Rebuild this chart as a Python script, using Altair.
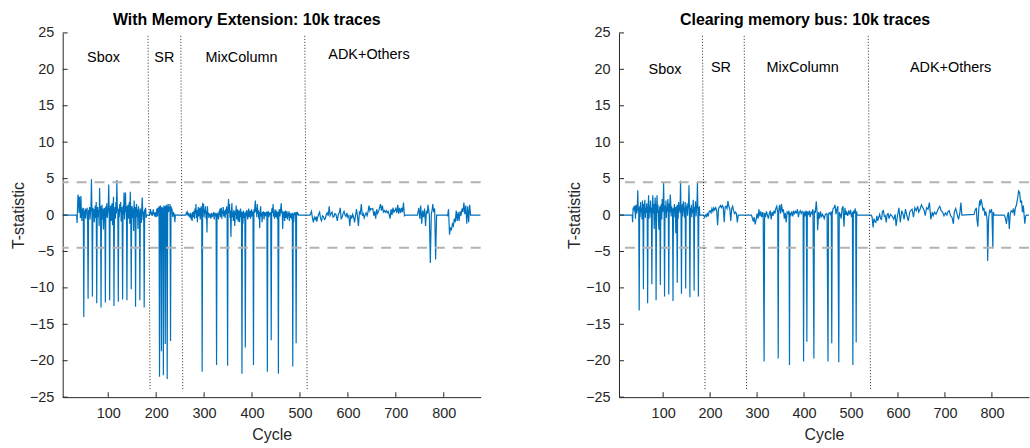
import altair as alt
import pandas as pd

# ---------------- data ----------------
# Panel 1: With Memory Extension
mem_sbox_start = 34
mem_sbox = [
    0.0, -1.1, 1.2, 2.8, 2.2, 0.3, 2.5, 1.0, -0.4, 2.6,
    0.5, -0.8, 0.9, 0.2, 1.0, -14.0, 0.6, -0.3, 0.9, -0.5,
    0.8, 0.2, 1.0, -0.9, -11.5, 0.7, 0.1, 1.1, -0.6, 0.4,
    1.2, 4.9, 0.3, -11.2, 1.0, -0.2, 0.8, -1.0, 0.6, 1.3,
    -0.4, 1.8, -12.1, 0.9, 1.1, -0.3, 0.7, -1.5, 3.7, 0.5,
    1.2, -12.7, 0.4, 1.4, -0.6, 0.9, -2.0, 0.2, 1.0, 0.6,
    -12.0, 1.2, -0.2, 1.6, -0.4, 0.3, 1.0, 4.2, 0.8, -11.7,
    0.5, 1.3, -0.8, 0.4, 1.6, -1.4, 0.9, 2.5, -12.5, 0.3,
    1.1, -0.5, 1.8, 0.2, 4.8, 0.6, 1.0, -11.9, 0.8, -0.3,
    1.5, 0.4, 1.8, -0.9, 1.1, 0.2, -11.6, 1.3, 0.0, 3.1,
    -0.6, 0.9, 3.1, 0.4, 1.2, -11.7, 0.6, 1.4, -0.5, 0.8,
    1.8, -1.2, 3.2, 0.7, -10.2, 1.0, 1.2, -0.4, 0.9, -2.2,
    2.0, 0.5, 1.1, -12.6, 0.3, 1.5, -0.3, 0.8, -1.9, 1.2,
    0.6, 0.0, -11.7, 0.9, 0.2, -1.1, 1.0, 2.4, 0.4, -0.7,
    0.5, -12.7, 0.8, 0.2, 1.0, -0.4, 0.0,
]
mem_sr_start = 186
mem_sr = [
    0.0, 0.3, 0.8, 0.4, 0.0, 0.2, -0.1, 0.3, 0.8, 0.2,
    0.0, -0.1, 0.4, 0.1, -0.3, 0.6, 0.9, -0.2, 1.0, 0.6,
    1.2, -22.2, 0.8, 1.3, 0.5, -18.7, 1.1, 0.4, 1.0, -22.0,
    1.3, 0.6, 1.2, -17.7, 0.9, 1.4, 0.7, -22.5, 1.2, 1.5,
    0.4, 1.1, 0.8, 1.5, -17.3, 1.2, 0.6, 0.9, 0.0, -0.3,
    0.4, 0.0, 0.2, -1.0, 0.0,
]
mem_mix_start = 262
mem_mix = [
    0.0, 0.3, 0.2, 0.4, 0.1, 0.3, -0.2, 0.0, 0.2, -0.4,
    0.3, -0.6, 0.1, -0.8, 0.4, 0.0, -0.3, 0.6, -0.5, 0.9,
    0.2, 1.5, -0.4, 0.7, -1.0, 0.3, 1.1, -0.2, 0.5, 1.0,
    -0.6, 0.4, 1.2, 0.3, -21.5, 1.7, 0.4, 1.5, -0.3, 0.8,
    0.2, 1.2, -0.5, 0.6, -2.4, 1.2, 0.0, 0.3, -0.4, 0.2,
    -0.2, 0.1, -0.5, 0.3, 0.0, -0.3, 0.2, -0.1, 0.4, -0.6,
    0.1, 0.3, -0.2, 0.2, -20.6, 0.3, -0.4, 0.2, -0.6, 0.5,
    0.0, 0.9, -0.3, 0.4, 1.0, -0.5, 0.6, 0.2, 1.1, -0.2,
    0.6, 0.3, -0.4, 0.8, 0.1, 1.2, 0.4, -20.7, 0.8, 2.2,
    0.3, 1.5, -0.4, 0.6, -3.0, 0.5, 1.6, -0.3, 0.4, -0.8,
    0.7, 0.1, -1.5, 0.5, 0.0, 1.3, -0.6, 0.3, 0.8, -0.9,
    0.2, 0.6, -1.0, 0.4, 0.9, -0.3, 0.5, -21.8, 0.4, -1.2,
    0.6, 0.2, -0.4, 0.3, -18.2, 0.5, -0.2, 0.7, 0.0, -0.6,
    0.4, 0.9, -0.3, 0.2, 0.6, -0.5, 0.3, 0.8, -0.2, 0.5,
    0.1, -20.6, 0.8, 0.3, 1.2, 2.0, 0.4, 1.0, -0.3, 1.5,
    0.2, 0.7, -0.5, 0.4, -1.8, 0.6, 1.2, -0.2, 0.3, -1.0,
    0.4, 0.0, 0.5, -0.6, 0.2, 0.4, -0.2, 0.3, 0.0, 0.5,
    -21.5, 0.2, 0.5, -0.3, 0.3, 0.0, 0.4, 0.2, -17.2, 0.6,
    1.0, 0.3, 1.5, -0.2, 0.4, -0.5, 0.8, 0.1, -0.3, 0.6,
    0.2, -0.6, 0.4, -21.8, 0.5, 0.8, -0.2, 0.3, 1.0, 1.6,
    0.2, 0.6, -1.9, 0.4, -0.3, 0.5, -0.8, 0.2, 0.6, -0.4,
    0.1, 0.5, -0.6, 0.2, -0.2, 0.5, -0.8, 0.3, 0.0, -0.4,
    0.2, -0.6, 0.3, -20.8, 0.2, -1.0, 0.3, 0.0, 0.4, 0.2,
    -17.6, 0.4, 0.0, 0.3, 0.2, 0.0,
]
mem_adk = [
    (521, 0.0), (524, 0.5), (526, -0.4), (528, -1.0), (530, -0.3), (532, -0.6),
    (534, -0.2), (535, -0.9), (537, -0.3), (539, 0.1), (541, 0.4), (543, -0.5),
    (545, -0.8), (547, -0.1), (549, -0.2), (551, -0.6), (553, -0.5), (555, 0.1),
    (557, 0.3), (559, -0.1), (561, 1.2), (563, -0.1), (565, 0.2), (567, 0.4),
    (569, -0.3), (571, -0.2), (573, 0.2), (575, 0.1), (578, -0.8), (580, 0.1),
    (582, 0.3), (584, 1.0), (586, -0.5), (588, -0.3), (590, 0.2), (592, 0.5),
    (594, 0.0), (596, -0.2), (598, 0.3), (600, -0.3), (602, -0.1), (604, -1.5),
    (606, 0.0), (608, -0.5), (610, 0.1), (612, -0.3), (614, -1.0), (616, 0.0),
    (618, 0.8), (620, -0.2), (622, -1.5), (624, 0.4), (626, 0.2), (628, 1.5),
    (630, -0.1), (632, 0.2), (634, -0.4), (636, 0.0), (638, 0.3), (640, -0.1),
    (642, 0.4), (644, 1.3), (646, 0.6), (648, 0.9), (650, 0.8), (652, 0.9),
    (654, -0.1), (656, 0.5), (658, -0.5), (660, 0.8), (662, 0.2), (664, 0.5),
    (666, 1.0), (668, 1.5), (670, 0.6), (672, 1.3), (674, 0.4), (676, 0.6),
    (678, 0.4), (680, 0.6), (682, 0.3), (684, 0.5), (686, 0.1), (688, -0.5),
    (690, 0.8), (692, 0.0), (694, 1.0), (696, 0.4), (698, 0.6), (700, 0.9),
    (702, 0.3), (704, 1.4), (706, 0.2), (708, 1.0), (710, 0.3), (712, 1.0),
    (714, 0.4), (716, 1.7), (718, -0.1), (720, 0.0),
]
mem_blk2 = [
    (745, 0.0), (746, 0.3), (748, 1.0), (750, -0.5), (752, 1.3), (754, -1.2),
    (756, 0.6), (758, -0.3), (760, 0.9), (762, -1.5), (764, 0.6), (766, 0.2),
    (767, 1.4), (769, 0.5), (770, -0.1), (772, -6.6), (774, 0.1), (776, 0.8),
    (777, 1.5), (779, 0.4), (781, 0.9), (783, -6.1), (785, 0.0),
]
mem_blk3 = [
    (806, 0.0), (808, -0.1), (810, 0.8), (812, -2.7), (814, -1.7), (816, -2.1),
    (818, -1.2), (820, -1.5), (822, -0.5), (824, -1.0), (826, 0.6), (828, -0.8),
    (830, 0.4), (832, -0.8), (834, 0.5), (836, -0.1), (838, 0.9), (840, 0.4),
    (842, 1.7), (844, 0.1), (846, 1.3), (848, -1.2), (850, 1.2), (852, -1.0),
    (854, 1.4), (856, 0.0), (877, 0.0),
]

# Panel 2: Clearing memory bus
clr_sbox_start = 34
clr_sbox = [
    0.0, -1.0, 1.0, 0.8, 1.2, 0.5, 1.3, -0.5, 0.9, 1.4,
    0.2, 1.1, 3.4, 0.6, 1.0, -13.1, 1.2, -0.3, 1.8, 0.4,
    1.0, -0.6, 2.0, 0.8, -10.2, 1.5, 0.2, 2.1, -0.4, 1.0,
    0.3, 1.6, 0.5, -12.1, 0.9, 2.7, -0.5, 1.2, 0.4, 2.0,
    -0.3, 1.0, -9.5, 1.3, 2.7, 0.2, 1.5, -1.9, 0.8, 2.4,
    0.6, -11.7, 1.0, 2.7, 0.3, 1.4, -0.8, -2.0, 0.5, 1.2,
    -9.6, 0.7, 1.5, -0.6, 2.2, 0.4, 1.0, 4.5, 0.6, -11.2,
    1.3, 0.2, 2.0, -0.4, 1.1, 0.5, 2.2, 0.8, -10.9, 1.6,
    0.3, 2.8, 2.0, -0.2, 1.2, 0.6, 0.9, -11.8, 1.0, 0.4,
    1.5, -0.3, 1.1, -2.5, 0.2, 1.3, -9.3, 1.4, -0.5, 1.8,
    0.6, 1.2, 0.3, 4.7, 0.9, -10.8, 0.7, 1.5, -0.2, 1.9,
    0.5, 1.0, -0.4, 1.8, -10.1, 1.2, 0.4, 1.6, -0.1, 0.9,
    1.3, 4.1, 0.6, -11.3, 1.0, 0.2, 1.4, -0.3, 0.8, 0.3,
    2.1, 0.7, -10.4, 1.1, 0.5, 1.9, -0.2, 0.8, 1.4, 4.5,
    0.6, -11.2, 0.9, 1.2, 0.0,
]
clr_sr = [
    (186, 0.0), (188, -0.3), (190, 0.0), (192, -0.2), (194, 0.3), (196, -0.2),
    (198, 0.5), (200, 0.6), (202, 0.3), (204, 0.9), (206, 0.5), (208, 1.0),
    (210, 0.7), (212, 1.0), (214, 0.6), (216, -1.4), (218, 0.9), (220, 1.1),
    (222, 1.3), (224, 1.0), (226, 1.3), (228, 1.1), (230, -1.0), (232, 1.1),
    (234, 1.2), (236, 0.9), (238, 1.9), (240, 1.2), (242, 0.8), (244, -0.8),
    (246, 0.9), (248, 1.2), (250, 0.6), (252, 0.2), (254, 0.4), (256, 0.2),
    (258, -1.0), (260, 0.0),
]
clr_mix = [
    (288, 0.0), (290, -0.4), (292, -0.9), (294, -0.3), (296, -1.3), (298, -0.6),
    (300, 0.2), (302, -0.5), (304, 0.8), (306, -0.2), (308, 0.5), (310, -0.3),
    (312, 0.4), (313, 0.1), (315, -20.1), (316, 0.3), (318, -0.3), (320, 0.5),
    (322, 0.0), (324, -0.5), (326, 0.2), (328, 0.6), (330, -0.6), (332, 0.4),
    (334, -0.1), (336, 0.6), (338, 0.2), (340, 0.9), (342, 1.2), (344, 0.3),
    (345, -19.7), (346, 0.5), (348, 1.4), (350, 0.2), (352, 1.5), (354, 0.4),
    (356, 0.8), (358, -0.5), (360, 0.3), (362, -1.0), (364, 0.4), (366, 0.2),
    (368, 0.6), (369, -20.6), (370, 0.3), (372, 0.0), (374, 0.5), (376, -0.2),
    (378, 0.6), (380, 0.2), (382, 0.5), (384, 0.3), (386, 0.8), (388, -0.3),
    (390, 0.4), (392, 0.6), (394, 0.2), (396, 0.5), (398, 0.3), (399, -20.1),
    (400, 0.5), (402, -0.2), (404, 0.6), (405, 0.2), (406, -17.4), (407, 0.5),
    (409, 0.0), (411, 0.6), (413, -0.3), (415, 0.4), (417, 0.2), (419, 0.8),
    (421, -19.7), (422, 0.6), (424, 0.3), (426, 1.9), (428, 0.2), (429, -2.1),
    (431, 0.4), (433, -0.5), (435, 0.5), (437, -0.3), (439, 0.1), (441, -0.1),
    (443, -0.5), (445, 0.0), (447, 0.2), (449, 0.1), (451, -20.1), (452, 0.2),
    (454, 0.3), (456, 0.1), (458, 0.5), (459, -17.6), (460, 0.2), (462, 0.9),
    (464, 1.0), (466, 1.4), (468, 0.1), (470, 0.8), (472, 1.2), (474, -20.2),
    (475, 0.4), (477, 0.1), (479, -0.5), (481, 0.9), (483, 1.2), (485, -1.6),
    (487, 1.0), (489, 0.0), (491, 0.4), (493, -0.1), (495, 0.5), (497, 0.2),
    (499, 0.7), (501, -0.3), (503, 0.4), (504, -20.6), (505, 0.6), (507, 0.2),
    (509, 0.9), (510, 0.4), (511, -17.5), (512, 0.5), (513, 0.0),
]
clr_adk = [
    (543, 0.0), (545, -0.3), (547, -1.7), (549, -0.5), (551, -0.9), (553, -1.0),
    (555, -0.1), (557, -0.8), (559, -0.3), (561, 0.1), (563, -0.5), (565, -0.6),
    (567, 0.5), (569, 0.6), (571, -0.2), (573, -0.1), (575, -1.0), (577, 0.1),
    (579, 0.2), (581, -0.5), (584, 0.1), (587, -0.1), (591, -0.6), (594, 0.1),
    (596, -1.5), (599, -0.1), (602, 1.0), (605, -1.0), (608, 0.6), (611, 0.1),
    (613, -0.6), (616, 0.8), (619, -0.1), (622, -0.8), (625, 0.4), (627, 0.6),
    (630, 0.8), (633, -0.3), (636, 1.0), (639, 0.6), (642, 1.2), (644, 0.4),
    (647, 0.8), (650, 1.4), (653, 1.0), (656, 0.6), (658, -0.1), (661, 1.0),
    (664, 0.8), (667, 1.7), (670, -0.6), (673, 0.4), (675, -0.1), (678, 0.4),
    (681, 0.1), (684, 0.6), (687, 1.0), (689, 1.2), (692, 0.6), (695, 0.4),
    (698, -0.1), (701, 0.3), (704, 0.0), (706, 0.4), (709, 0.6), (712, -0.1),
    (715, -0.3), (718, -1.2), (720, 0.4), (723, 0.9), (726, 0.1), (729, -0.6),
    (732, 0.4), (734, 1.7), (736, 0.0),
]
clr_blk2 = [
    (762, 0.1), (764, 0.6), (767, 1.0), (768, -0.5), (770, -1.6), (772, 0.8),
    (774, 2.0), (775, 1.3), (777, 2.2), (779, 1.5), (781, 0.6), (783, 1.0),
    (785, -0.1), (787, 0.5), (789, -0.2), (790, -1.0), (791, -6.3), (793, -0.5),
    (795, 0.6), (797, 0.4), (799, 0.8), (800, 0.4), (802, -4.6), (803, 0.4),
    (805, 0.0),
]
clr_blk3 = [
    (826, 0.0), (827, -0.1), (829, -0.5), (831, -1.2), (833, -0.1), (835, 0.4),
    (837, -1.9), (839, 0.1), (841, 0.6), (844, 0.4), (846, 0.9), (848, -0.1),
    (850, 1.0), (852, 1.3), (854, 2.0), (857, 3.3), (859, 3.1), (861, 1.7),
    (863, 2.0), (865, 0.4), (867, 1.3), (870, -1.2), (872, -0.1), (874, 0.0),
    (880, 0.0),
]

region_names = ["Sbox", "SR", "MixColumn", "ADK+Others"]
mem_label_x = [90, 217, 378, 644]
mem_label_y = [21.6, 21.5, 21.6, 22.0]
clr_label_x = [104, 223, 397, 712]
clr_label_y = [19.9, 20.2, 20.2, 20.2]

mem_div_top = [183.0, 251.4, 510.0]
mem_div_bot = [187.3, 255.5, 515.0]
clr_div_top = [183.6, 272.6, 536.7]
clr_div_bot = [189.2, 277.5, 541.6]
div_y_top = 24.6
div_y_bot = -24.0

thresholds = [4.5, -4.5]
x_ticks = [100, 200, 300, 400, 500, 600, 700, 800]
y_ticks = [-25, -20, -15, -10, -5, 0, 5, 10, 15, 20, 25]

# ---------------- chart ----------------
FONT = "Liberation Sans"
BLUE = "#0072BD"
AX = "#262626"
H = 366


def seq(start, vals):
    return [(start + i, v) for i, v in enumerate(vals)]


mem_points = ([(5, 0.0)] + seq(mem_sbox_start, mem_sbox) + seq(mem_sr_start, mem_sr)
              + seq(mem_mix_start, mem_mix) + mem_adk + mem_blk2 + mem_blk3)
clr_points = ([(6, 0.0)] + seq(clr_sbox_start, clr_sbox) + clr_sr + clr_mix
              + clr_adk + clr_blk2 + clr_blk3)

XAXIS = alt.Axis(values=x_ticks, title="Cycle", labelPadding=9, titlePadding=7)
YAXIS = alt.Axis(values=y_ticks, title="T-statistic", labelPadding=9, titlePadding=3)


def panel(points, lx, ly, dtop, dbot, title, xdom, width, title_dx):
    df = pd.DataFrame(points, columns=["cycle", "t"])
    xs = alt.Scale(domain=xdom, nice=False, zero=False)
    ys = alt.Scale(domain=[-25, 25], nice=False, zero=False)

    def X(f):
        return alt.X(f, scale=xs, axis=XAXIS)

    def Y(f):
        return alt.Y(f, scale=ys, axis=YAXIS)

    line = alt.Chart(df).mark_line(color=BLUE, strokeWidth=1.2, clip=True).encode(
        x=X("cycle:Q"), y=Y("t:Q"))
    thr = alt.Chart(pd.DataFrame({"t": thresholds})).mark_rule(
        color="#b3b3b3", strokeDash=[10, 8], strokeWidth=2
    ).encode(y=Y("t:Q"))
    div = alt.Chart(pd.DataFrame({
        "xt": dtop, "xb": dbot,
        "yt": [div_y_top] * len(dtop), "yb": [div_y_bot] * len(dtop),
    })).mark_rule(color=AX, strokeDash=[1, 2], strokeWidth=1).encode(
        x=X("xt:Q"), x2="xb:Q", y=Y("yt:Q"), y2="yb:Q",
    )
    txt = alt.Chart(pd.DataFrame({"x": lx, "y": ly, "s": region_names})).mark_text(
        font=FONT, fontSize=14.5, color="black", align="center", baseline="middle"
    ).encode(x=X("x:Q"), y=Y("y:Q"), text="s:N")
    xt = alt.Chart(pd.DataFrame({"v": x_ticks})).mark_rule(color=AX, strokeWidth=1).encode(
        x=X("v:Q"), y=alt.value(H), y2=alt.value(H - 5))
    yt = alt.Chart(pd.DataFrame({"v": y_ticks})).mark_rule(color=AX, strokeWidth=1).encode(
        y=Y("v:Q"), x=alt.value(0), x2=alt.value(5))
    return alt.layer(line, thr, div, txt, xt, yt).properties(
        width=width, height=H,
        title=alt.TitleParams(title, font=FONT, fontSize=16, fontWeight="bold",
                              color="black", dx=title_dx, offset=-3),
    )


left = panel(mem_points, mem_label_x, mem_label_y, mem_div_top, mem_div_bot,
             "With Memory Extension: 10k traces", [5, 877], 420, -25)
right = panel(clr_points, clr_label_x, clr_label_y, clr_div_top, clr_div_bot,
              "Clearing memory bus: 10k traces", [6, 879], 412, -19)

chart = alt.hconcat(left, right, spacing=85).properties(
    padding={"left": 10, "top": 11, "right": 0, "bottom": 0},
    background="white",
).configure_view(stroke=None).configure_axis(
    domainColor=AX, domainWidth=1, ticks=False, grid=False,
    labelFont=FONT, labelFontSize=14.5, labelColor=AX,
    titleFont=FONT, titleFontSize=16, titleFontWeight="normal", titleColor=AX,
)

chart.save("out.html", embed_options={"renderer": "svg", "actions": False})
